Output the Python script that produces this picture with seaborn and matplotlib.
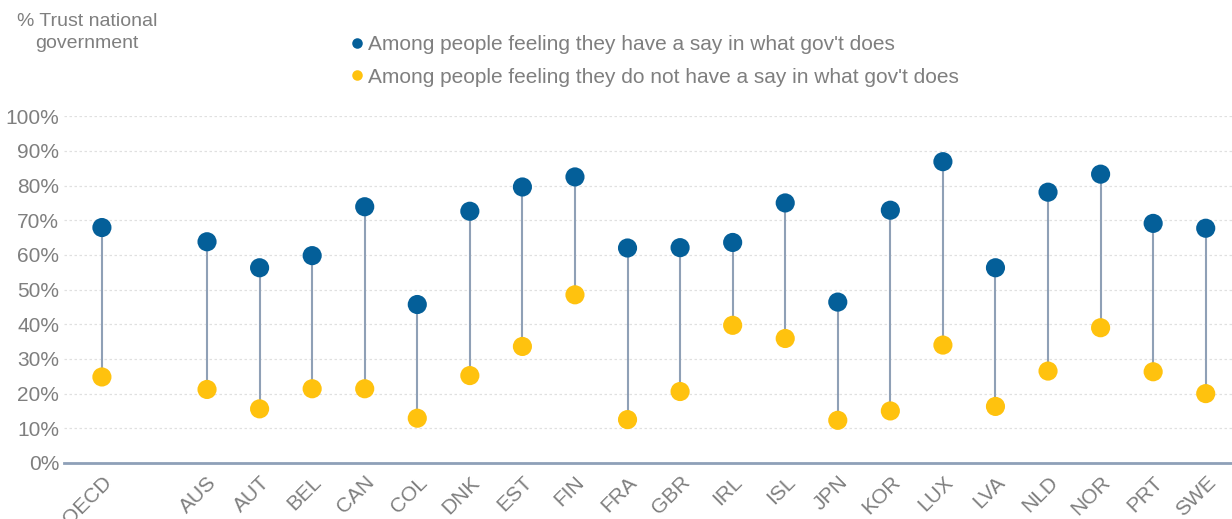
import numpy as np
import pandas as pd
import matplotlib
matplotlib.use("Agg")
import matplotlib.pyplot as plt
import seaborn as sns
from matplotlib.ticker import PercentFormatter

countries = ["OECD", "AUS", "AUT", "BEL", "CAN", "COL", "DNK", "EST", "FIN", "FRA",
             "GBR", "IRL", "ISL", "JPN", "KOR", "LUX", "LVA", "NLD", "NOR", "PRT", "SWE"]
have_say = [67.9, 63.8, 56.3, 59.8, 73.9, 45.7, 72.6, 79.6, 82.5, 62.0,
            62.1, 63.6, 75.0, 46.4, 72.9, 86.9, 56.3, 78.1, 83.3, 69.1, 67.7]
no_say = [24.8, 21.2, 15.6, 21.4, 21.4, 12.9, 25.2, 33.6, 48.5, 12.5,
          20.6, 39.7, 35.9, 12.3, 15.0, 34.0, 16.3, 26.5, 39.0, 26.3, 20.0]

lab_yes = "Among people feeling they have a say in what gov't does"
lab_no = "Among people feeling they do not have a say in what gov't does"

# OECD average sits apart from the countries: leave one empty slot after it
pos = np.array([0] + list(range(2, len(countries) + 1)))

df = pd.DataFrame({"pos": np.concatenate([pos, pos]),
                   "value": np.array(have_say + no_say) / 100,
                   "group": [lab_yes] * len(pos) + [lab_no] * len(pos)})

sns.set_style("white")
plt.rcParams["font.family"] = ["Liberation Sans", "DejaVu Sans"]
grey = "#7f7f7f"

fig = plt.figure(figsize=(12.32, 5.19), dpi=100)
ax = fig.add_axes([0.052, 0.108, 0.948, 0.668])

ax.vlines(pos, np.array(no_say) / 100, np.array(have_say) / 100,
          color="#8fa0b6", lw=1.5, zorder=2)
sns.scatterplot(data=df, x="pos", y="value", hue="group",
                palette={lab_yes: "#045f99", lab_no: "#ffc20e"},
                s=190, edgecolor="none", zorder=3, ax=ax)

ax.set_xlim(-0.72, pos[-1] + 0.5)
ax.set_ylim(0, 1)
ax.set_yticks(np.arange(0, 1.01, 0.1))
ax.yaxis.set_major_formatter(PercentFormatter(1.0, decimals=0))
ax.set_xticks(pos)
ax.set_xticklabels(countries, rotation=45, ha="right", rotation_mode="anchor")
ax.tick_params(axis="both", length=0, labelsize=15, colors=grey)
ax.tick_params(axis="x", pad=7)
ax.tick_params(axis="y", pad=3.5)
ax.set_xlabel("")
ax.set_ylabel("")
ax.grid(axis="y", color="#e0e0e0", lw=0.9, ls=(0, (2, 2)), zorder=0)
for s in ["top", "right", "left"]:
    ax.spines[s].set_visible(False)
ax.spines["bottom"].set_color("#8ea0b8")
ax.spines["bottom"].set_linewidth(2)

handles, labels = ax.get_legend_handles_labels()
ax.get_legend().remove()
fig.legend(handles, labels, loc="upper left", bbox_to_anchor=(0.2665, 0.949),
           frameon=False, fontsize=15, labelcolor=grey, markerscale=0.55,
           handletextpad=-0.5, labelspacing=0.66, borderaxespad=0)

fig.text(87 / 1232, 1 - 13 / 519, "% Trust national\ngovernment", ha="center", va="top",
         fontsize=14, color=grey, linespacing=1.38)

fig.savefig("out.png", dpi=100)
